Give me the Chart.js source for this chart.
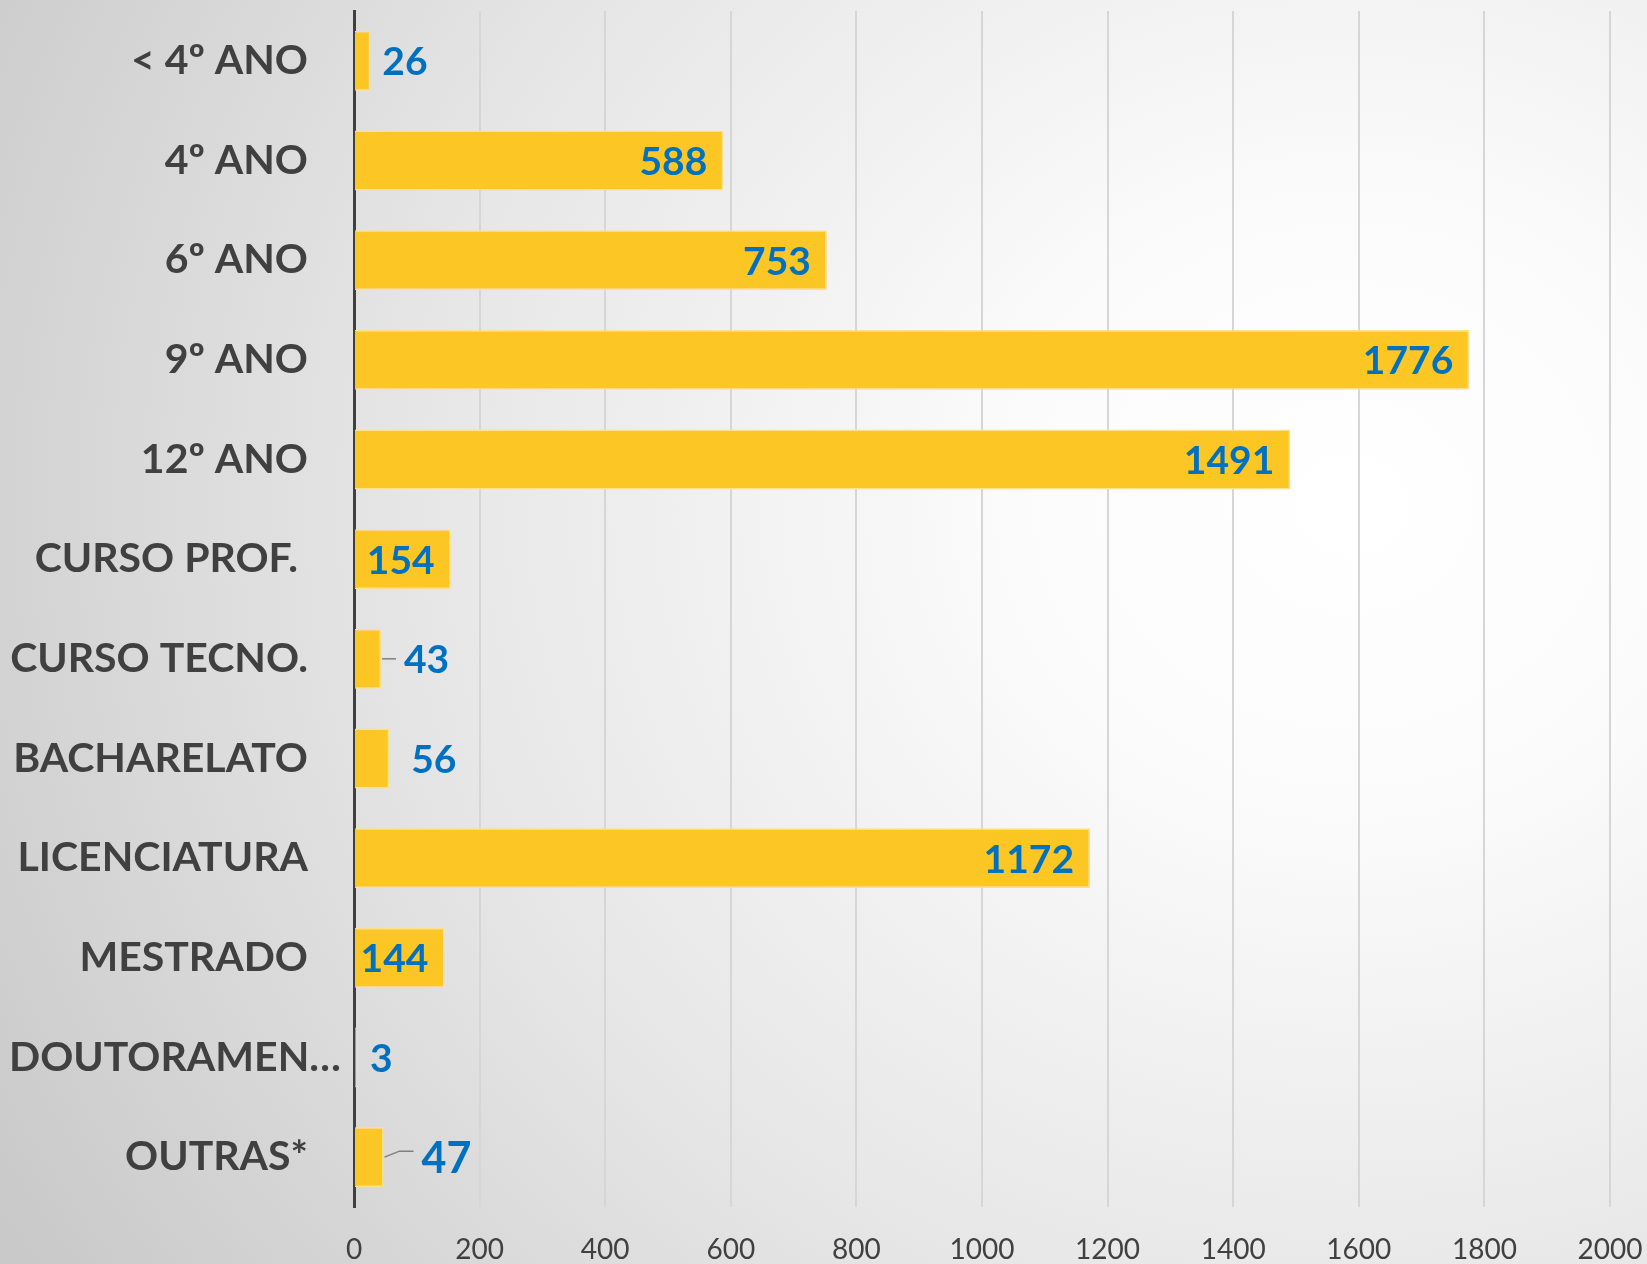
<!DOCTYPE html>
<html>
<head>
<meta charset="utf-8">
<script src="https://cdn.jsdelivr.net/npm/chart.js@4.4.1/dist/chart.umd.min.js"></script>
<style>
    html, body {
        margin: 0;
        padding: 0;
        width: 1647px;
        height: 1264px;
        overflow: hidden;
    }
    body {
        background: radial-gradient(ellipse 95% 110% at 82% 40%, #ffffff 0%, #fbfbfb 22%, #e6e6e6 60%, #c9c9c9 100%);
    }
    #chartBox {
        position: absolute;
        left: 0;
        top: 0;
        width: 1647px;
        height: 1264px;
    }
</style>
</head>
<body>
<div id="chartBox"><canvas id="levelChart" width="1647" height="1264"></canvas></div>
<script>
// Data
const categories = ['< 4º ANO', '4º ANO', '6º ANO', '9º ANO', '12º ANO', 'CURSO PROF. ', 'CURSO TECNO.',
    'BACHARELATO', 'LICENCIATURA', 'MESTRADO', 'DOUTORAMENTO', 'OUTRAS*'];
const counts = [26, 588, 753, 1776, 1491, 154, 43, 56, 1172, 144, 3, 47];
const xTicksMax = 2000;
const xTickStep = 200;

// Label placement (styling only): gap to the right of short bars, leader lines
const insideMin = 140;
const outsideGap = [12, 0, 0, 0, 0, 0, 23, 22, 0, 0, 14, 38];
const leaderLines = [false, false, false, false, false, false, true, false, false, false, false, true];

const barColor = '#FCC624';
const labelBlue = '#0070C0';
const textGrey = '#404040';
const catFont = 'bold 41px Lato';
const maxCatWidth = 334;

// Value labels drawn after bars
const valueLabels = {
    id: 'valueLabels',
    afterDatasetsDraw(chart) {
        const ctx = chart.ctx;
        const meta = chart.getDatasetMeta(0);
        ctx.save();
        meta.data.forEach((bar, i) => {
            const v = counts[i];
            const y = bar.y + 2;
            ctx.font = 'bold 39px Lato';
            ctx.fillStyle = labelBlue;
            ctx.textBaseline = 'middle';
            if (v >= insideMin) {
                ctx.textAlign = 'right';
                ctx.fillText(String(v), bar.x - 16, y);
            } else {
                if (leaderLines[i]) {
                    ctx.strokeStyle = '#7f7f7f';
                    ctx.lineWidth = 1.5;
                    ctx.beginPath();
                    if (outsideGap[i] > 30) {
                        ctx.moveTo(bar.x + 1, bar.y);
                        ctx.lineTo(bar.x + 16, bar.y - 6);
                        ctx.lineTo(bar.x + outsideGap[i] - 8, bar.y - 6);
                    } else {
                        ctx.moveTo(bar.x + 1, bar.y);
                        ctx.lineTo(bar.x + outsideGap[i] - 8, bar.y);
                    }
                    ctx.stroke();
                }
                ctx.font = outsideGap[i] > 30 ? 'bold 43px Lato' : 'bold 39px Lato';
                ctx.textAlign = 'left';
                ctx.fillText(String(v), bar.x + outsideGap[i], y);
            }
        });
        ctx.restore();
    }
};

// Truncate long category labels like the original ("DOUTORAMEN…")
const measureCtx = document.createElement('canvas').getContext('2d');
function fitLabel(text, maxWidth) {
    measureCtx.font = catFont;
    if (measureCtx.measureText(text).width <= maxWidth) return text;
    let t = text;
    while (t.length > 1 && measureCtx.measureText(t + '…').width > maxWidth) {
        t = t.slice(0, -1);
    }
    return t + '…';
}

// A truncated label is laid out across the full left margin, as in the original
const wideLabelShift = {
    id: 'wideLabelShift',
    beforeDraw(chart) {
        const scale = chart.scales.y;
        const items = scale.getLabelItems();
        measureCtx.font = catFont;
        items.forEach(item => {
            const txt = String(item.label);
            if (txt.endsWith('…')) {
                const w = measureCtx.measureText(txt).width;
                const right = item.options.translation[0];
                const left = right - w;
                const shift = Math.min(scale.right - 10 - right, 9 - left);
                if (!item._shifted) {
                    item.options.translation[0] += Math.max(0, shift);
                    item._shifted = true;
                }
            }
        });
    }
};

new Chart(document.getElementById('levelChart'), {
    type: 'bar',
    data: {
        labels: categories,
        datasets: [{
            data: counts,
            backgroundColor: barColor,
            borderColor: '#FDE08C',
            borderWidth: 1.5,
            barPercentage: 0.6,
            categoryPercentage: 1.0
        }]
    },
    options: {
        indexAxis: 'y',
        responsive: false,
        animation: false,
        layout: {
            padding: { top: 11, right: 37, left: 0, bottom: 0 }
        },
        plugins: {
            legend: { display: false },
            tooltip: { enabled: false }
        },
        scales: {
            x: {
                min: 0,
                max: xTicksMax,
                ticks: {
                    stepSize: xTickStep,
                    color: textGrey,
                    padding: 26,
                    font: { family: 'Lato', size: 28 },
                    callback: value => String(value)
                },
                grid: {
                    color: '#d6d6d6',
                    lineWidth: 2,
                    drawTicks: false
                },
                border: { display: false },
                afterFit(scale) {
                    scale.height = 57;
                    scale.paddingLeft = 0;
                    scale.paddingRight = 0;
                }
            },
            y: {
                ticks: {
                    color: textGrey,
                    padding: 46,
                    font: { family: 'Lato', size: 41, weight: 'bold' },
                    callback(value) { return fitLabel(categories[value], maxCatWidth); }
                },
                grid: { display: false, drawTicks: false },
                border: { display: true, color: textGrey, width: 3 },
                afterFit(scale) {
                    scale.width = 354;
                    scale.paddingTop = 0;
                    scale.paddingBottom = 0;
                }
            }
        }
    },
    plugins: [valueLabels, wideLabelShift]
});
</script>
</body>
</html>
